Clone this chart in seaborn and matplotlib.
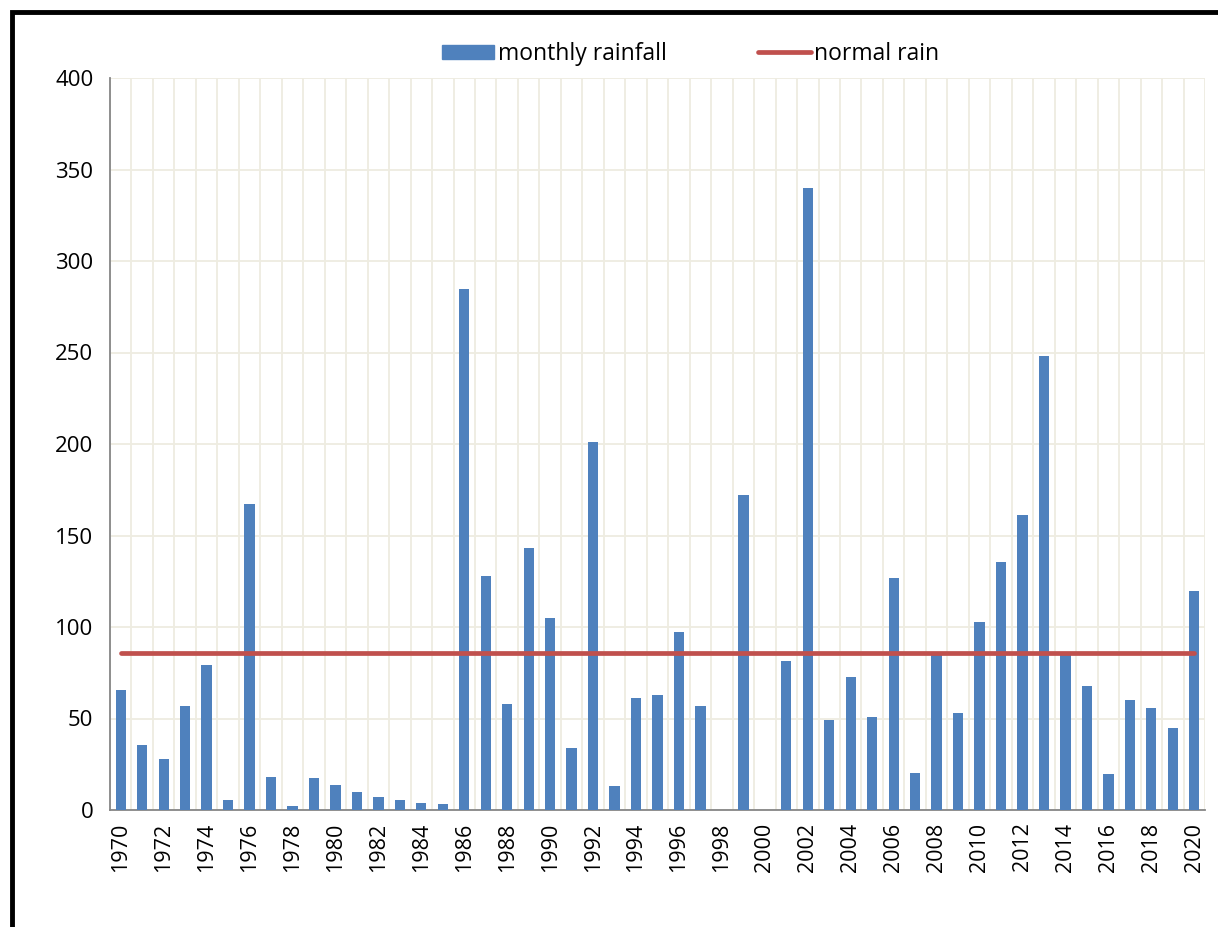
import numpy as np
import pandas as pd
import matplotlib
matplotlib.use('Agg')
import matplotlib.pyplot as plt
import seaborn as sns
from matplotlib.patches import Rectangle
from matplotlib.lines import Line2D
from matplotlib.patches import Patch

# Data
years = list(range(1970, 2021))
rainfall = [65.5, 35.5, 28, 57, 79, 5.5, 167, 18, 2, 17.5,
            13.7, 10, 7, 5.5, 4, 3.5, 284.7, 128, 58, 143,
            105, 34, 201, 13, 61, 63, 97, 57, 0, 172,
            0, 81.5, 340, 49, 72.5, 51, 127, 20, 85, 53,
            103, 135.5, 161, 248, 85, 68, 19.5, 60, 56, 45,
            119.5]
normal_rain = 85.8

df = pd.DataFrame({'Year': [str(y) for y in years], 'Rainfall': rainfall})

sns.set_style('white')
plt.rcParams['font.family'] = ['Open Sans', 'DejaVu Sans']
plt.rcParams['text.color'] = 'black'
plt.rcParams['xtick.color'] = 'black'
plt.rcParams['ytick.color'] = 'black'

fig = plt.figure(figsize=(12.18, 9.27), dpi=100)
ax = fig.add_axes([110 / 1218, 1 - 810 / 927, 1095 / 1218, 732 / 927])

sns.barplot(x='Year', y='Rainfall', data=df, color='#4F81BD', width=0.48,
            saturation=1, linewidth=0, ax=ax, zorder=3)
ax.plot([0, len(years) - 1], [normal_rain, normal_rain], color='#C0504D',
        lw=3.4, solid_capstyle='round', zorder=4)

ax.set_xlim(-0.5, len(years) - 0.5)
ax.set_ylim(0, 400)
ax.set_yticks(range(0, 401, 50))
ax.set_xticks(range(0, len(years), 2))
ax.set_xticklabels([str(y) for y in years[::2]], rotation=90, fontsize=15.5)
ax.set_xticks(np.arange(-0.5, len(years), 1), minor=True)
ax.tick_params(axis='x', which='major', length=0, pad=9)
ax.tick_params(axis='x', which='minor', length=6, width=1.3, color='#868686', direction='out')
ax.tick_params(axis='y', length=6, width=1.3, color='#868686', direction='out',
               labelsize=16, labelcolor='black', pad=6)
ax.grid(axis='x', which='minor', color='#EEECE1', lw=1.3, zorder=0)
ax.grid(axis='y', which='major', color='#EEECE1', lw=1.3, zorder=0)
ax.set_axisbelow(True)
ax.set_xlabel('')
ax.set_ylabel('')
for s in ['top', 'right']:
    ax.spines[s].set_visible(False)
for s in ['left', 'bottom']:
    ax.spines[s].set_color('#868686')
    ax.spines[s].set_linewidth(1.3)

handles = [Patch(color='#4F81BD', label='monthly rainfall'),
           Line2D([0], [0], color='#C0504D', lw=3.4, label='normal rain')]
fig.legend(handles=handles, loc='center', bbox_to_anchor=(0.567, 1 - 54 / 927),
           ncol=2, frameon=False, fontsize=16.5, handlelength=2.3, handleheight=0.6,
           handletextpad=0.15, columnspacing=4.0)

# outer frame
fig.patches.append(Rectangle((12 / 1218, -0.05), 1.1, 1 - 12 / 927 + 0.05,
                             transform=fig.transFigure, fill=False,
                             edgecolor='black', lw=3.5))

fig.savefig('out.png', dpi=100)
